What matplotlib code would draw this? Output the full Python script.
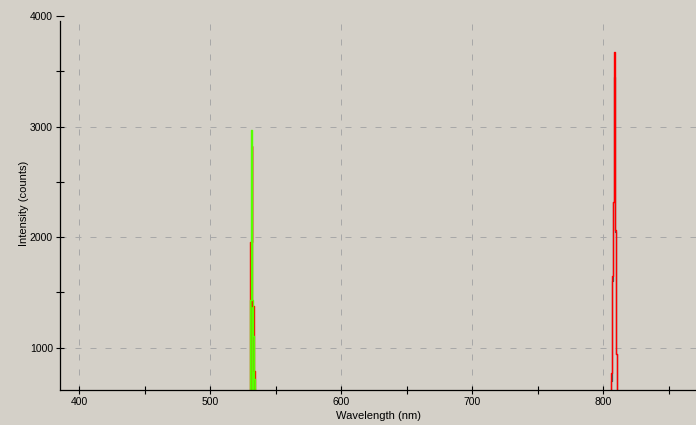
import numpy as np
import matplotlib
matplotlib.use("Agg")
import matplotlib.pyplot as plt
from matplotlib.ticker import MultipleLocator

plt.rcParams['font.family'] = ['Liberation Sans', 'DejaVu Sans']

# spectra (step edges in nm, counts after each edge); baseline sits below the visible range
red_wl = [385, 530.4, 531.5, 532.0, 533.3, 533.6, 533.9, 534.3,
          806.0, 806.8, 807.6, 808.3, 808.7, 809.1, 809.9, 810.5, 871]
red_counts = [450, 1955, 2827, 1373, 1109, 790, 720, 450,
              767, 1645, 2321, 3670, 3518, 2064, 945, 450, 450]

gray_wl = [385, 805.9, 806.8, 807.5, 808.3, 809.1, 809.9, 810.8, 871]
gray_counts = [450, 700, 1600, 2321, 3450, 2050, 945, 450, 450]

green_wl = [385, 530.2, 531.4, 532.1, 533.0, 533.6, 534.5, 871]
green_counts = [450, 1436, 2973, 1436, 1110, 720, 450, 450]

bg = '#d4d0c8'
fig = plt.figure(figsize=(6.96, 4.25), dpi=100, facecolor=bg)
ax = fig.add_axes([60 / 696, 35 / 425, 636 / 696, 374 / 425], facecolor=bg)

ax.plot(gray_wl, gray_counts, drawstyle='steps-post', color='#505050', lw=0.9)
ax.plot(red_wl, red_counts, drawstyle='steps-post', color='#ff0000', lw=1.0)
ax.fill_between(green_wl, 0, green_counts, step='post', color='#55ff00', lw=0.6,
                edgecolor='#55ff00')
ax.plot(green_wl, green_counts, drawstyle='steps-post', color='#55ff00', lw=1.0)

ax.set_xlim(385.3, 870.8)
ax.set_ylim(617.6, 4000)

ax.xaxis.set_major_locator(MultipleLocator(100))
ax.xaxis.set_minor_locator(MultipleLocator(50))
ax.yaxis.set_major_locator(MultipleLocator(1000))
ax.yaxis.set_minor_locator(MultipleLocator(500))

ax.grid(True, which='major', color='#a8a8a8', linestyle=(0, (6, 9)), lw=0.72)
ax.set_axisbelow(True)
for yt, gl in zip(ax.get_yticks(), ax.get_ygridlines()):
    if yt >= 4000:
        gl.set_visible(False)

ax.tick_params(which='both', direction='inout', length=6, width=0.8,
               labelsize=7.5, pad=2, colors='black')

for s in ['top', 'right']:
    ax.spines[s].set_visible(False)
for s in ['left', 'bottom']:
    ax.spines[s].set_linewidth(0.9)
ax.spines['left'].set_bounds(617.6, 3955)

ax.set_xlabel('Wavelength (nm)', fontsize=8, labelpad=3)
ax.set_ylabel('Intensity (counts)', fontsize=8, labelpad=1)

fig.savefig('out.png', dpi=100, facecolor=bg)
